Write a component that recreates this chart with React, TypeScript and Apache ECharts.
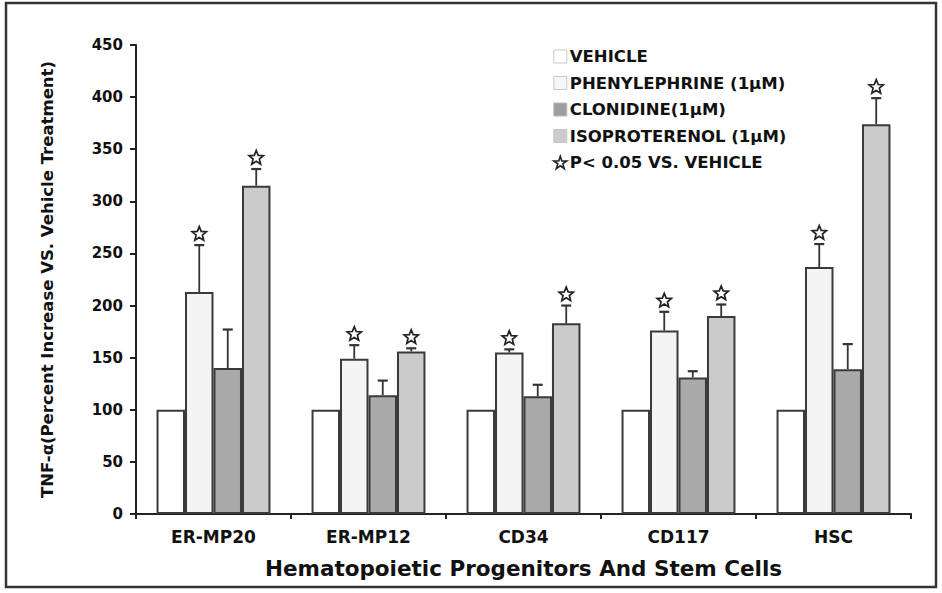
import React, { useEffect, useRef } from "react";
import * as echarts from "echarts";

const categories = ["ER-MP20", "ER-MP12", "CD34", "CD117", "HSC"];
const seriesNames = ["VEHICLE", "PHENYLEPHRINE (1μM)", "CLONIDINE(1μM)", "ISOPROTERENOL (1μM)"];
const vehicle = [100, 100, 100, 100, 100];
const phenylephrine = [213, 149, 155, 176, 237];
const phenylephrineErr = [45, 13, 3, 18, 22];
const clonidine = [140, 114, 113, 131, 139];
const clonidineErr = [37, 14, 11, 6, 24];
const isoproterenol = [315, 156, 183, 190, 374];
const isoproterenolErr = [16, 3, 17, 11, 25];
const phenylephrineSig = [true, true, true, true, true];
const clonidineSig = [false, false, false, false, false];
const isoproterenolSig = [true, true, true, true, true];
const starLabel = "P< 0.05 VS. VEHICLE";
const yTicks = [0, 50, 100, 150, 200, 250, 300, 350, 400, 450];

const FONT = "'DejaVu Sans', Verdana, sans-serif";
const colors = ["#ffffff", "#f4f4f4", "#a9a9a9", "#cbcbcb"];
const CAT_GAP = 0.265;

function starPoints(cx: number, cy: number, R: number, r: number) {
  const pts: number[][] = [];
  for (let i = 0; i < 10; i++) {
    const ang = -Math.PI / 2 + (i * Math.PI) / 5;
    const rad = i % 2 === 0 ? R : r;
    pts.push([cx + rad * Math.cos(ang), cy + rad * Math.sin(ang)]);
  }
  return pts;
}

export default function App() {
  const ref = useRef<HTMLDivElement>(null);
  useEffect(() => {
    if (!ref.current) return;
    const chart = echarts.init(ref.current, null, { renderer: "svg" });

    const valueSets = [vehicle, phenylephrine, clonidine, isoproterenol];
    const errSets = [null, phenylephrineErr, clonidineErr, isoproterenolErr];
    const sigSets = [null, phenylephrineSig, clonidineSig, isoproterenolSig];

    const errData: number[][] = [];
    const starData: number[][] = [];
    for (let s = 1; s < 4; s++) {
      for (let c = 0; c < categories.length; c++) {
        const v = valueSets[s][c];
        const e = (errSets[s] as number[])[c];
        errData.push([c, v, e, s]);
        if ((sigSets[s] as boolean[])[c]) starData.push([c, v + e, s]);
      }
    }

    const offsetFor = (api: any, s: number) => {
      const band = api.size([1, 0])[0];
      const bw = (band * (1 - CAT_GAP)) / 4;
      return (s - 1.5) * bw;
    };

    const starPath =
      "path://M50,2 L61,36 L97,36 L68,57 L79,92 L50,71 L21,92 L32,57 L3,36 L39,36 Z";

    const legendText = { fontFamily: FONT, fontWeight: "bold", fontSize: 16.5, color: "#111", padding: [0, 0, 0, -2] };

    const option: any = {
      animation: false,
      backgroundColor: "#ffffff",
      textStyle: { fontFamily: FONT },
      grid: { left: 136, right: 31, top: 45, bottom: 79, containLabel: false },
      legend: {
        orient: "vertical",
        left: 548,
        top: 43,
        itemWidth: 13,
        itemHeight: 13,
        itemGap: 9.5,
        textStyle: legendText,
        data: [
          { name: seriesNames[0], icon: "rect", itemStyle: { color: "#ffffff", borderColor: "#c8c8c8", borderWidth: 1 } },
          { name: seriesNames[1], icon: "rect", itemStyle: { color: "#f6f6f6", borderColor: "#c8c8c8", borderWidth: 1 } },
          { name: seriesNames[2], icon: "rect", itemStyle: { color: "#9e9e9e", borderColor: "#bbbbbb", borderWidth: 1 } },
          { name: seriesNames[3], icon: "rect", itemStyle: { color: "#cccccc", borderColor: "#c8c8c8", borderWidth: 1 } },
          { name: starLabel, icon: starPath, itemStyle: { color: "#ffffff", borderColor: "#222", borderWidth: 1.6 } },
        ],
      },
      xAxis: {
        type: "category",
        data: categories,
        name: "Hematopoietic Progenitors And Stem Cells",
        nameLocation: "middle",
        nameGap: 43,
        nameTextStyle: { fontFamily: FONT, fontWeight: "bold", fontSize: 21.5, color: "#111" },
        axisLine: { lineStyle: { color: "#222", width: 2 } },
        axisTick: { show: true, length: 5, lineStyle: { color: "#222", width: 2 } },
        axisLabel: { fontFamily: FONT, fontWeight: "bold", fontSize: 17, color: "#111", margin: 14 },
        splitLine: { show: false },
      },
      yAxis: {
        type: "value",
        min: 0,
        max: 450,
        interval: 50,
        name: "TNF-α(Percent Increase VS. Vehicle Treatment)",
        nameLocation: "middle",
        nameGap: 80,
        nameTextStyle: { fontFamily: FONT, fontWeight: "bold", fontSize: 16.5, color: "#111" },
        axisLine: { show: true, lineStyle: { color: "#222", width: 2 } },
        axisTick: { show: true, length: 6, lineStyle: { color: "#222", width: 2 } },
        axisLabel: {
          fontFamily: FONT,
          fontWeight: "bold",
          fontSize: 15,
          color: "#111",
          margin: 13,
          formatter: (v: number) => (yTicks.includes(v) ? String(v) : ""),
        },
        splitLine: { show: false },
      },
      series: [
        ...valueSets.map((vals, i) => ({
          name: seriesNames[i],
          type: "bar",
          data: vals,
          barGap: "0%",
          barCategoryGap: (CAT_GAP * 100).toFixed(1) + "%",
          itemStyle: { color: colors[i], borderColor: "#3a3a3a", borderWidth: 2 },
          emphasis: { disabled: true },
          z: 2,
        })),
        {
          name: "errors",
          type: "custom",
          data: errData,
          encode: { x: 0, y: 1 },
          z: 3,
          renderItem: (params: any, api: any) => {
            const c = api.value(0);
            const v = api.value(1);
            const e = api.value(2);
            const s = api.value(3);
            const off = offsetFor(api, s);
            const p0 = api.coord([c, v]);
            const p1 = api.coord([c, v + e]);
            const x = p0[0] + off;
            const cap = 5;
            return {
              type: "group",
              children: [
                { type: "line", shape: { x1: x, y1: p0[1], x2: x, y2: p1[1] }, style: { stroke: "#333", lineWidth: 1.8 } },
                { type: "line", shape: { x1: x - cap, y1: p1[1], x2: x + cap, y2: p1[1] }, style: { stroke: "#333", lineWidth: 2.2 } },
              ],
            };
          },
        },
        {
          name: starLabel,
          type: "custom",
          data: starData,
          encode: { x: 0, y: 1 },
          itemStyle: { color: "#ffffff", borderColor: "#222" },
          z: 4,
          renderItem: (params: any, api: any) => {
            const c = api.value(0);
            const top = api.value(1);
            const s = api.value(2);
            const off = offsetFor(api, s);
            const p = api.coord([c, top]);
            return {
              type: "polygon",
              shape: { points: starPoints(p[0] + off, p[1] - 11, 7.5, 3.3) },
              style: { fill: "#ffffff", stroke: "#222", lineWidth: 1.7 },
            };
          },
        },
      ],
      graphic: [
        {
          type: "rect",
          shape: { x: 6, y: 3, width: 930, height: 584 },
          style: { fill: "none", stroke: "#333", lineWidth: 2.5 },
          silent: true,
        },
      ],
    };

    chart.setOption(option);
    return () => chart.dispose();
  }, []);

  return <div ref={ref} style={{ width: 942, height: 593, position: "absolute", left: 0, top: 0 }} />;
}
